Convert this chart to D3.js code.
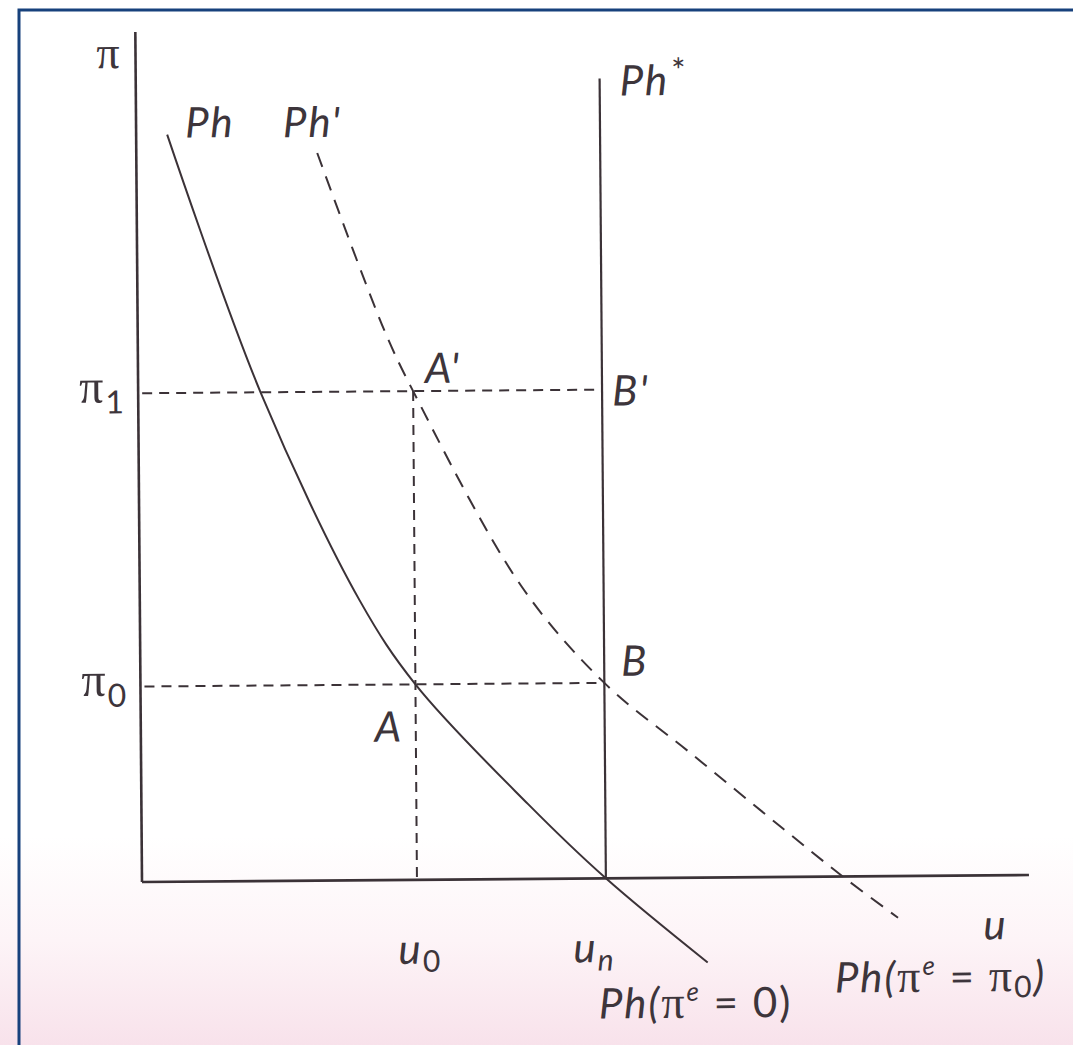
<!DOCTYPE html>
<html>
<head>
<meta charset="utf-8">
<script src="https://cdn.jsdelivr.net/npm/d3@7"></script>
<style>
  body { margin: 0; background: #fff; }
  text { fill: #3d353b; }
  .lab { font-family: Lato, "Open Sans", sans-serif; font-style: italic; font-size: 42px; letter-spacing: 2px; }
  .sym { font-family: "Liberation Serif", "DejaVu Serif", serif; font-style: normal; }
</style>
</head>
<body>
<svg id="chart" width="1073" height="1045"></svg>
<script>
// Expectations-augmented Phillips curves
const uMax = 10, piMax = 10;          // axis extents (u horizontal, π vertical)
const u0 = 3.1, un = 5.23;            // marked unemployment rates
const pi0 = 2.3, pi1 = 5.75;          // marked inflation rates
const phStarTop = 9.41;               // top of the long-run curve Ph*

// short-run curve Ph (πe = 0)
const phU  = [0.35, 1.38, 2.48, 3.1, 4.36, 5.23, 6.37];
const phPi = [8.79, 5.75, 3.29, 2.3, 0.88, 0, -1.0];

// shifted short-run curve Ph' (πe = π0)
const phPrimeU  = [2.04, 2.78, 3.1, 4.3, 5.23, 6.19, 7.23, 7.9, 8.52];
const phPrimePi = [8.56, 6.47, 5.75, 3.45, 2.3, 1.47, 0.57, 0, -0.49];

const W = 1073, H = 1045;
const svg = d3.select("#chart");
const ink = "#3b3237";

// paper background with a faint pink cast toward the bottom
const defs = svg.append("defs");
const grad = defs.append("linearGradient").attr("id", "paper")
  .attr("x1", 0).attr("y1", 0).attr("x2", 0).attr("y2", 1);
grad.append("stop").attr("offset", "0.8").attr("stop-color", "#ffffff");
grad.append("stop").attr("offset", "0.9").attr("stop-color", "#fdf4f7");
grad.append("stop").attr("offset", "1").attr("stop-color", "#f8e2eb");
svg.append("rect").attr("width", W).attr("height", H).attr("fill", "url(#paper)");

// blue frame (left and top edges)
svg.append("path")
  .attr("d", `M19,${H} V10 H${W}`)
  .attr("fill", "none").attr("stroke", "#17417c").attr("stroke-width", 3);

// plot group: origin at the axes corner, slightly rotated like the printed figure
const g = svg.append("g").attr("transform", "translate(142,882) rotate(-0.45)");

const x = d3.scaleLinear().domain([0, uMax]).range([0, 887]);
const y = d3.scaleLinear().domain([0, piMax]).range([0, -850]);

// axes
g.append("line").attr("x1", x(0)).attr("y1", y(0)).attr("x2", x(0)).attr("y2", y(piMax))
  .attr("stroke", ink).attr("stroke-width", 2.6);
g.append("line").attr("x1", x(0)).attr("y1", y(0)).attr("x2", x(uMax)).attr("y2", y(0))
  .attr("stroke", ink).attr("stroke-width", 2.6);

// long-run curve Ph*
g.append("line").attr("x1", x(un)).attr("y1", y(0)).attr("x2", x(un)).attr("y2", y(phStarTop))
  .attr("stroke", ink).attr("stroke-width", 2.2);

// dashed guide lines
function dashed(x1, y1, x2, y2) {
  g.append("line").attr("x1", x1).attr("y1", y1).attr("x2", x2).attr("y2", y2)
    .attr("stroke", ink).attr("stroke-width", 2).attr("stroke-dasharray", "10 7");
}
dashed(x(0) + 4, y(pi1), x(un), y(pi1));
dashed(x(0) + 4, y(pi0), x(un), y(pi0));
dashed(x(u0), y(pi1), x(u0), y(0));

// curves
const line = d3.line().x(d => x(d[0])).y(d => y(d[1])).curve(d3.curveCatmullRom.alpha(0.5));
g.append("path").attr("d", line(d3.zip(phU, phPi)))
  .attr("fill", "none").attr("stroke", ink).attr("stroke-width", 2);
g.append("path").attr("d", line(d3.zip(phPrimeU, phPrimePi)))
  .attr("fill", "none").attr("stroke", ink).attr("stroke-width", 2)
  .attr("stroke-dasharray", "15 10");

// labels
function label(tx, ty, parts, cls = "lab") {
  const t = g.append("text").attr("class", cls).attr("x", tx).attr("y", ty);
  parts.forEach(p => {
    const s = t.append("tspan").text(p.t);
    if (p.cls) s.attr("class", p.cls);
    if (p.size) s.attr("font-size", p.size);
    if (p.dy) s.attr("dy", p.dy);
    if (p.dx) s.attr("dx", p.dx);
    if (p.style) s.attr("font-style", p.style);
  });
  return t;
}

// axis titles
label(x(0) - 39, y(piMax) + 36, [{ t: "π", cls: "sym", size: 46 }]);
label(x(uMax) - 46, y(0) + 64, [{ t: "u" }]);

// inflation levels
label(x(0) - 59, y(pi1) + 9, [{ t: "π", cls: "sym", size: 48 }, { t: "1", size: 32, dy: 11, style: "normal" }]);
label(x(0) - 59, y(pi0) + 9, [{ t: "π", cls: "sym", size: 48 }, { t: "0", size: 32, dy: 11, style: "normal" }]);

// unemployment levels
label(x(u0) - 19, y(0) + 84, [{ t: "u" }, { t: "0", size: 30, dy: 8, style: "normal" }]);
label(x(un) - 33, y(0) + 84, [{ t: "u" }, { t: "n", size: 30, dy: 8 }]);

// curve names
label(x(phU[0]) + 18, y(phPi[0]) + 3, [{ t: "Ph" }]);
label(x(phPrimeU[0]) - 34, y(phPrimePi[0]) - 16, [{ t: "Ph'" }]);
label(x(un) + 20, y(phStarTop) + 17, [{ t: "Ph" }, { t: "*", size: 34, dy: -12, dx: 2, style: "normal" }]);

// points
label(x(u0) + 12, y(pi1) - 8, [{ t: "A'" }]);
label(x(un) + 10, y(pi1) + 16, [{ t: "B'" }]);
label(x(un) + 17, y(pi0) - 7, [{ t: "B" }]);
label(x(u0) - 41, y(pi0) + 57, [{ t: "A" }]);

// curve descriptions
label(x(un) - 8, y(0) + 140, [
  { t: "Ph(" }, { t: "π", cls: "sym", size: 46 }, { t: "e", size: 26, dy: -17 },
  { t: " = 0)", dy: 17, style: "normal" }
]);
label(x(uMax) - 195, y(0) + 116, [
  { t: "Ph(" }, { t: "π", cls: "sym", size: 46 }, { t: "e", size: 26, dy: -17 },
  { t: " = ", dy: 17, style: "normal" }, { t: "π", cls: "sym", size: 46 },
  { t: "0", size: 30, dy: 6, style: "normal" }, { t: ")", dy: -6 }
]);
</script>
</body>
</html>
